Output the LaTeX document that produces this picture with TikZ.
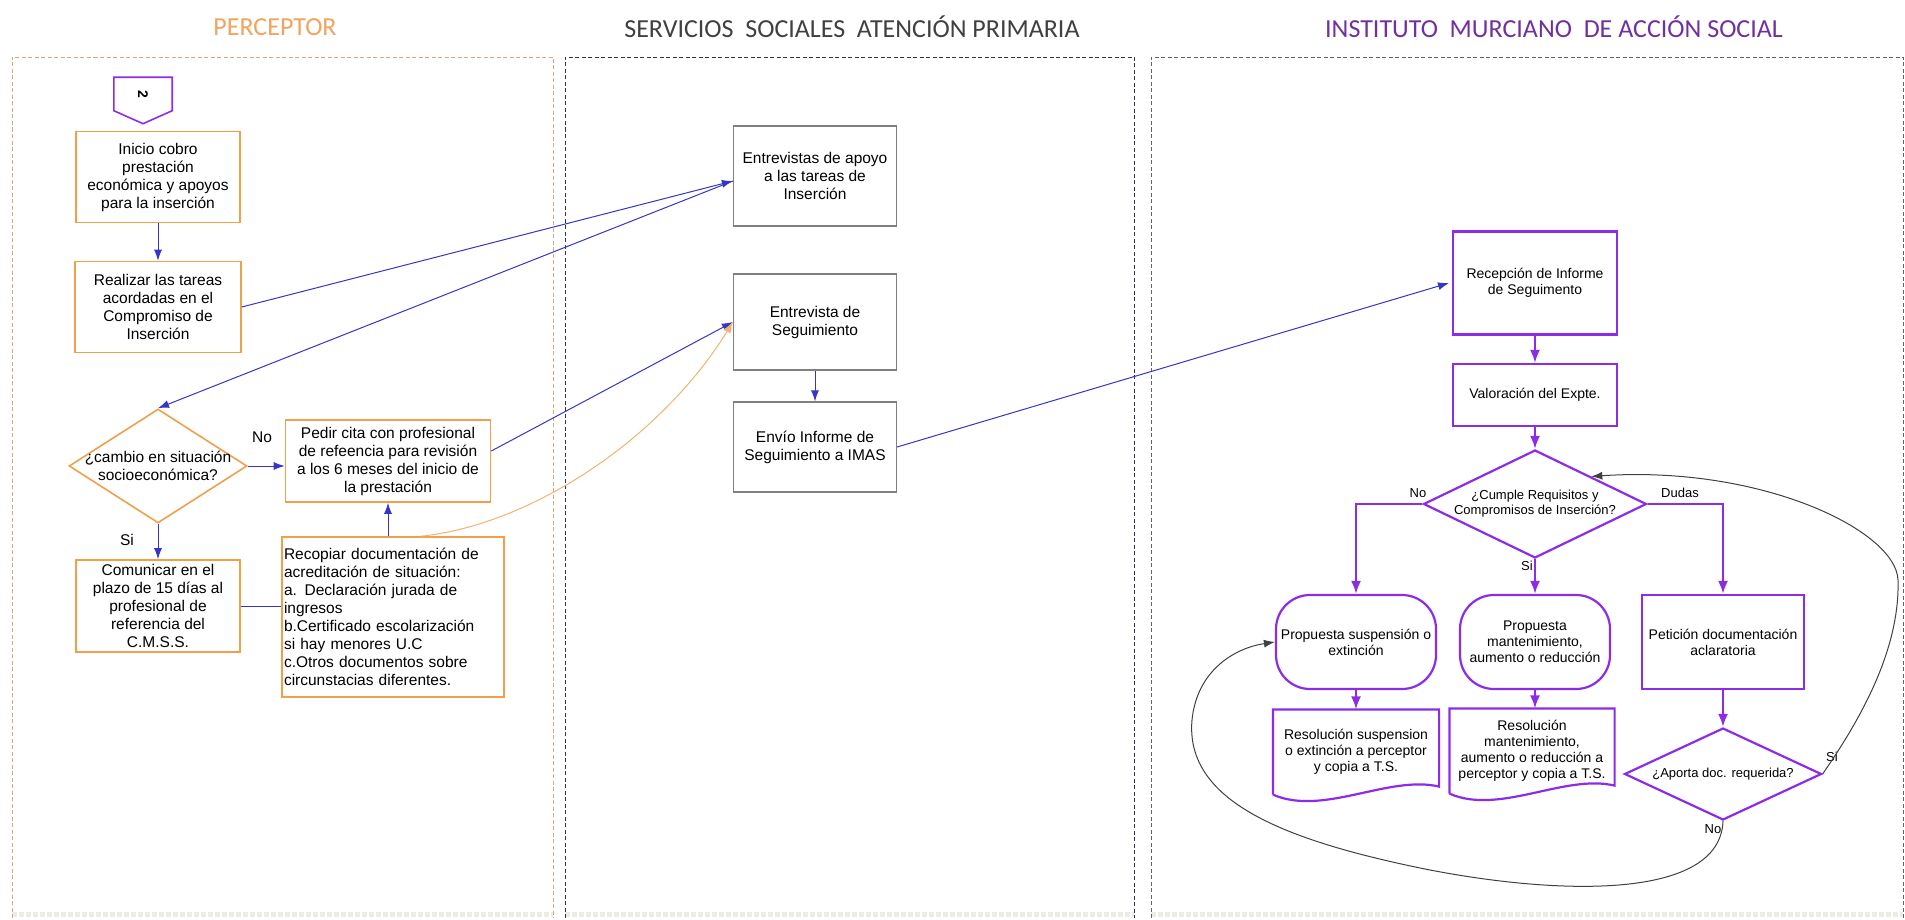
\documentclass[tikz,border=0pt]{standalone}
\usepackage{fontspec}
\setmainfont{Liberation Sans}
\newfontfamily\titlefont{Carlito}
\usepackage{graphicx}
\usepackage{tikz}
\usetikzlibrary{arrows.meta}
\usetikzlibrary{shapes.geometric}

\definecolor{perorange}{HTML}{F0A04B}
\definecolor{pertitle}{HTML}{F2A35E}
\definecolor{linkblue}{HTML}{3535C8}
\definecolor{imasviolet}{HTML}{8C2BE8}
\definecolor{imastitle}{HTML}{7030A0}
\definecolor{ssgray}{HTML}{808080}
\definecolor{sstitle}{HTML}{404040}
\definecolor{laneper}{HTML}{D8A878}
\definecolor{laness}{HTML}{303050}
\definecolor{laneimas}{HTML}{6A5A80}
\definecolor{footgray}{HTML}{ECECE2}

\tikzset{
  lane/.style={line width=0.9pt, dash pattern=on 4pt off 2.5pt},
  lanefoot/.style={draw=footgray, line width=5pt, dotted},
  lanetitle/.style={font=\titlefont\fontsize{26}{30}\selectfont},
  perbox/.style={draw=perorange, line width=1.6pt, fill=white, align=center,
                 inner sep=2pt, font=\fontsize{15.5}{18}\selectfont},
  ssbox/.style={draw=ssgray, line width=1.2pt, fill=white, align=center,
                inner sep=2pt, font=\fontsize{15.5}{18}\selectfont},
  imasbox/.style={draw=imasviolet, line width=2.2pt, fill=white, align=center,
                  inner sep=2pt, font=\fontsize{14}{16}\selectfont},
  bluelink/.style={draw=linkblue, line width=1pt, -{Latex[length=11pt,width=8pt]}},
  imaslink/.style={draw=imasviolet, line width=2.2pt, -{Latex[length=13pt,width=10pt]}},
  backlink/.style={draw=black!75, line width=1pt, -{Latex[length=11pt,width=8pt]}},
  pertag/.style={font=\fontsize{15.5}{18}\selectfont},
  imastag/.style={font=\fontsize{13}{15}\selectfont},
}

\begin{document}
\begin{tikzpicture}[x=1pt, y=-1pt]
\useasboundingbox (0,0) rectangle (1905,920);

% lanes
\draw[lanefoot] (12,914) -- (553,914);
\draw[lanefoot] (565,914) -- (1134,914);
\draw[lanefoot] (1151,914) -- (1903,914);
\draw[lane, draw=laneper] (12,918) -- (12,57) -- (553,57) -- (553,918);
\draw[lane, draw=laness] (565,918) -- (565,57) -- (1134,57) -- (1134,918);
\draw[lane, draw=laneimas] (1151,918) -- (1151,57) -- (1903,57) -- (1903,918);

\node[lanetitle, text=pertitle] (pertit) at (275,27) {PERCEPTOR};
\node[lanetitle, text=sstitle] (sstit) at (852,27) {SERVICIOS\ \ SOCIALES\ \ ATENCIÓN PRIMARIA};
\node[lanetitle, text=imastitle] (imastit) at (1554,27) {INSTITUTO\ \ MURCIANO\ \ DE ACCIÓN SOCIAL};

% perceptor
\node[minimum width=58pt, minimum height=33pt, inner sep=0pt,
      font=\bfseries\fontsize{14}{16}\selectfont] (offpg) at (143,94) {\rotatebox{-90}{2}};
\draw[draw=imasviolet, line width=1.6pt] (offpg.south west) -- (offpg.north west)
  -- (offpg.north east) -- (offpg.south east) -- ([yshift=-13pt]offpg.south) -- cycle;

\node[perbox, minimum width=164pt, minimum height=91pt] (inicio) at (158,177)
  {Inicio cobro\\prestación\\económica y apoyos\\para la inserción};
\node[perbox, minimum width=166pt, minimum height=91pt] (realizar) at (158,307)
  {Realizar las tareas\\acordadas en el\\Compromiso de\\Inserción};
\node[perbox, diamond, minimum width=178pt, minimum height=114pt, inner sep=0pt,
      label={[pertag, align=center]center:{¿cambio en situación\\socioeconómica?}}] (cambio) at (158,466) {};
\node[perbox, minimum width=205pt, minimum height=82pt] (pedir) at (388,461)
  {Pedir cita con profesional\\de refeencia para revisión\\a los 6 meses del inicio de\\la prestación};
\node[perbox, minimum width=164pt, minimum height=92pt] (comunicar) at (158,606)
  {Comunicar en el\\plazo de 15 días al\\profesional de\\referencia del\\C.M.S.S.};
\node[perbox, align=left, text width=218pt, minimum height=160pt] (recopiar) at (393,617)
  {Recopiar documentación de\\acreditación de situación:\\a. Declaración jurada de\\ingresos\\b.Certificado escolarización\\si hay menores U.C\\c.Otros documentos sobre\\circunstacias diferentes.};

\node[pertag] (notag) at (262,437) {No};
\node[pertag] (sitag) at (127,540) {Si};

\draw[bluelink] (inicio) -- (realizar);
\draw[bluelink] (cambio.east) -- (cambio.east -| pedir.west);
\draw[bluelink] (cambio.south) -- (comunicar.north);
\draw[bluelink] (recopiar.north -| pedir.south) -- (pedir.south);
\draw[draw=linkblue, line width=1pt] (comunicar.east) -- (comunicar.east -| recopiar.west);

% servicios sociales
\node[ssbox, minimum width=163pt, minimum height=100pt] (entApoyo) at (815,176)
  {Entrevistas de apoyo\\a las tareas de\\Inserción};
\node[ssbox, minimum width=163pt, minimum height=96pt] (entSeg) at (815,322)
  {Entrevista de\\Seguimiento};
\node[ssbox, minimum width=163pt, minimum height=90pt] (envio) at (815,447)
  {Envío Informe de\\Seguimiento a IMAS};
\draw[bluelink] (entSeg) -- (envio);

\draw[bluelink] (realizar.east) -- ([yshift=-5pt]entApoyo.west);
\draw[bluelink] ([yshift=-5pt]entApoyo.west) -- (cambio.north);
\draw[bluelink] ([yshift=10pt]pedir.east) -- (entSeg.west);
\draw[draw=perorange!80, line width=1pt, -{Latex[length=11pt,width=8pt]}]
  ([xshift=28pt]recopiar.north) .. controls (530,525) and (660,440) .. (entSeg.west);
\draw[bluelink] (envio.east) -- (1449,283);

% IMAS
\node[imasbox, minimum width=164pt, minimum height=103pt] (recep) at (1535,283)
  {Recepción de Informe\\de Seguimento};
\node[imasbox, minimum width=164pt, minimum height=62pt] (valor) at (1535,395)
  {Valoración del Expte.};
\node[imasbox, diamond, minimum width=223pt, minimum height=108pt, inner sep=0pt,
      label={[imastag, align=center]center:{¿Cumple Requisitos y\\Compromisos de Inserción?}}] (cumple) at (1535,504) {};
\node[imasbox, rounded corners=34pt, minimum width=160pt, minimum height=94pt] (propSus) at (1356,642)
  {Propuesta suspensión o\\extinción};
\node[imasbox, rounded corners=34pt, minimum width=150pt, minimum height=94pt] (propMant) at (1535,642)
  {Propuesta\\mantenimiento,\\aumento o reducción};
\node[imasbox, minimum width=162pt, minimum height=94pt] (peticion) at (1723,642)
  {Petición documentación\\aclaratoria};
\node[imasbox, draw=none, fill=none, minimum width=164pt, minimum height=83pt] (resSus) at (1356,752)
  {Resolución suspension\\o extinción a perceptor\\y copia a T.S.};
\node[imasbox, draw=none, fill=none, minimum width=163pt, minimum height=83pt] (resMant) at (1532,751)
  {Resolución\\mantenimiento,\\aumento o reducción a\\perceptor y copia a T.S.};
\node[imasbox, diamond, minimum width=197pt, minimum height=92pt, inner sep=0pt,
      label={[imastag, align=center]center:{¿Aporta doc. requerida?}}] (aporta) at (1723,774) {};

\foreach \doc in {resSus, resMant}{
  \draw[draw=imasviolet, line width=2.2pt] (\doc.south west) -- (\doc.north west)
    -- (\doc.north east) -- ([yshift=8pt]\doc.south east)
    .. controls ([xshift=-50pt,yshift=20pt]\doc.south east) and ([xshift=50pt,yshift=-22pt]\doc.south west)
    .. (\doc.south west);
}

\draw[imaslink] (recep) -- (valor);
\draw[imaslink] (valor) -- (cumple.north);
\draw[imaslink] (cumple.west) -| (propSus.north);
\draw[imaslink] (cumple.east) -| (peticion.north);
\draw[imaslink] (cumple.south) -- (propMant.north);
\draw[imaslink] (propSus) -- (resSus.north);
\draw[imaslink] (propMant.south) -- (propMant.south |- resMant.north);
\draw[imaslink] (peticion) -- (aporta.north);

\node[imastag] (notag2) at (1418,493) {No};
\node[imastag] (dudastag) at (1680,493) {Dudas};
\node[imastag] (sitag2) at (1527,566) {Si};
\node[imastag] (sitag3) at (1832,757) {Si};
\node[imastag] (notag3) at (1713,829) {No};

\draw[backlink] (aporta.east) .. controls (1860,720) and (1900,650) .. (1898,580)
  .. controls (1896,530) and (1760,465) .. (cumple.north east);
\draw[backlink] (aporta.south) .. controls (1720,900) and (1560,895) .. (1430,870)
  .. controls (1280,840) and (1185,800) .. (1192,720)
  .. controls (1197,670) and (1235,648) .. (propSus.west);

\end{tikzpicture}
\end{document}
